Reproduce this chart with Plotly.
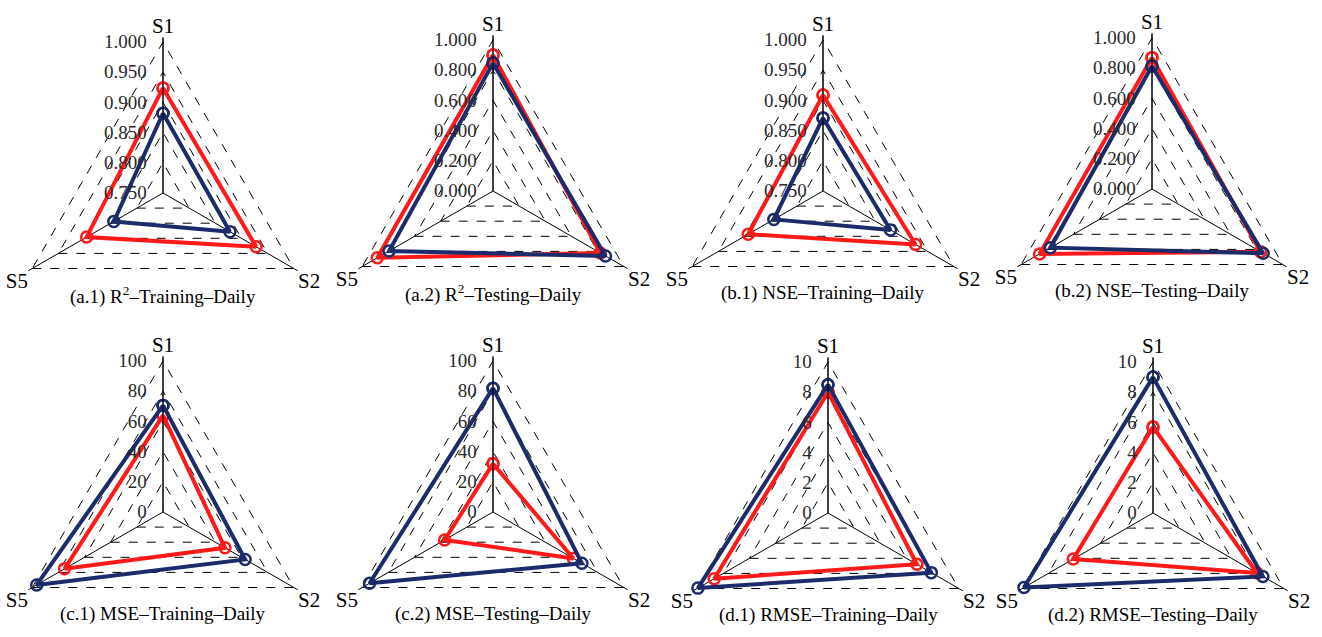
import plotly.graph_objects as go

categories = ["S1", "S2", "S5"]

titles = [
    "(a.1) R<sup>2</sup>–Training–Daily",
    "(a.2) R<sup>2</sup>–Testing–Daily",
    "(b.1) NSE–Training–Daily",
    "(b.2) NSE–Testing–Daily",
    "(c.1) MSE–Training–Daily",
    "(c.2) MSE–Testing–Daily",
    "(d.1) RMSE–Training–Daily",
    "(d.2) RMSE–Testing–Daily",
]

# values per panel, order S1, S2, S5
red_a1 = [0.924, 0.928, 0.896]
blue_a1 = [0.882, 0.878, 0.844]
red_a2 = [0.900, 0.820, 0.885]
blue_a2 = [0.847, 0.860, 0.795]
red_b1 = [0.909, 0.927, 0.893]
blue_b1 = [0.871, 0.879, 0.844]
red_b2 = [0.870, 0.830, 0.860]
blue_b2 = [0.815, 0.850, 0.777]
red_c1 = [64.0, 47.4, 75.3]
blue_c1 = [70.6, 62.8, 96.6]
red_c2 = [32.0, 61.5, 37.0]
blue_c2 = [82.0, 68.0, 94.4]
red_d1 = [8.0, 6.8, 8.7]
blue_d1 = [8.5, 7.9, 9.95]
red_d2 = [5.7, 7.95, 6.1]
blue_d2 = [9.0, 8.4, 9.87]

reds = [red_a1, red_a2, red_b1, red_b2, red_c1, red_c2, red_d1, red_d2]
blues = [blue_a1, blue_a2, blue_b1, blue_b2, blue_c1, blue_c2, blue_d1, blue_d2]

ranges = [[0.75, 1.0], [0, 1.0], [0.75, 1.0], [0, 1.0], [0, 100], [0, 100], [0, 10], [0, 10]]
dticks = [0.05, 0.2, 0.05, 0.2, 20, 20, 2, 2]
tickformats = [".3f", ".3f", ".3f", ".3f", "d", "d", "d", "d"]

RED = "#FF1A1A"
NAVY = "#1C2B69"
W, H = 1322, 670
centers = [(163, 193), (493, 191), (823, 191), (1152, 189),
           (163, 512), (493, 512), (828, 513), (1153, 513)]
R = 151
PAD = 0.03  # small headroom so the outer dashed ring is drawn
Rd = R * (1 + PAD)
FONT = "Liberation Serif, Times New Roman, serif"

fig = go.Figure()
layout = dict(width=W, height=H, margin=dict(l=0, r=0, t=0, b=0),
              paper_bgcolor="white", plot_bgcolor="white", showlegend=False,
              font=dict(family=FONT, color="black"))
annotations = []
for i in range(8):
    name = "polar" if i == 0 else f"polar{i+1}"
    sub = "polar" if i == 0 else f"polar{i+1}"
    cx, cy = centers[i]
    lo, hi = ranges[i]
    for vals, col in ((reds[i], RED), (blues[i], NAVY)):
        fig.add_trace(go.Scatterpolar(
            r=vals + [vals[0]], theta=categories + [categories[0]],
            mode="lines+markers", subplot=sub,
            line=dict(color=col, width=4),
            marker=dict(symbol="circle-open", size=11, color=col, line=dict(width=2.5)),
        ))
    layout[name] = dict(
        domain=dict(x=[(cx - Rd) / W, (cx + Rd) / W], y=[(H - cy - Rd) / H, (H - cy + Rd) / H]),
        gridshape="linear",
        bgcolor="white",
        radialaxis=dict(range=[lo, hi + (hi - lo) * PAD], dtick=dticks[i], tick0=lo,
                        tickformat=tickformats[i], angle=90, tickangle=90,
                        side="counterclockwise",
                        showline=True, linecolor="black", linewidth=1,
                        gridcolor="black", griddash="dash", gridwidth=0.8,
                        ticks="outside", ticklen=9, tickcolor="rgba(0,0,0,0)",
                        tickfont=dict(size=19, family=FONT, color="#2a2a2a")),
        angularaxis=dict(rotation=90, direction="clockwise",
                         showline=False, linecolor="black",
                         gridcolor="black", gridwidth=0.8,
                         ticks="", tickfont=dict(size=21, family=FONT, color="black")),
    )
    annotations.append(dict(text=titles[i], x=cx / W, y=(H - (cy + 102)) / H,
                             xref="paper", yref="paper", showarrow=False,
                             xanchor="center", yanchor="middle",
                             font=dict(size=19, family=FONT, color="black")))
layout["annotations"] = annotations
fig.update_layout(**layout)
fig.write_html("out.html")
